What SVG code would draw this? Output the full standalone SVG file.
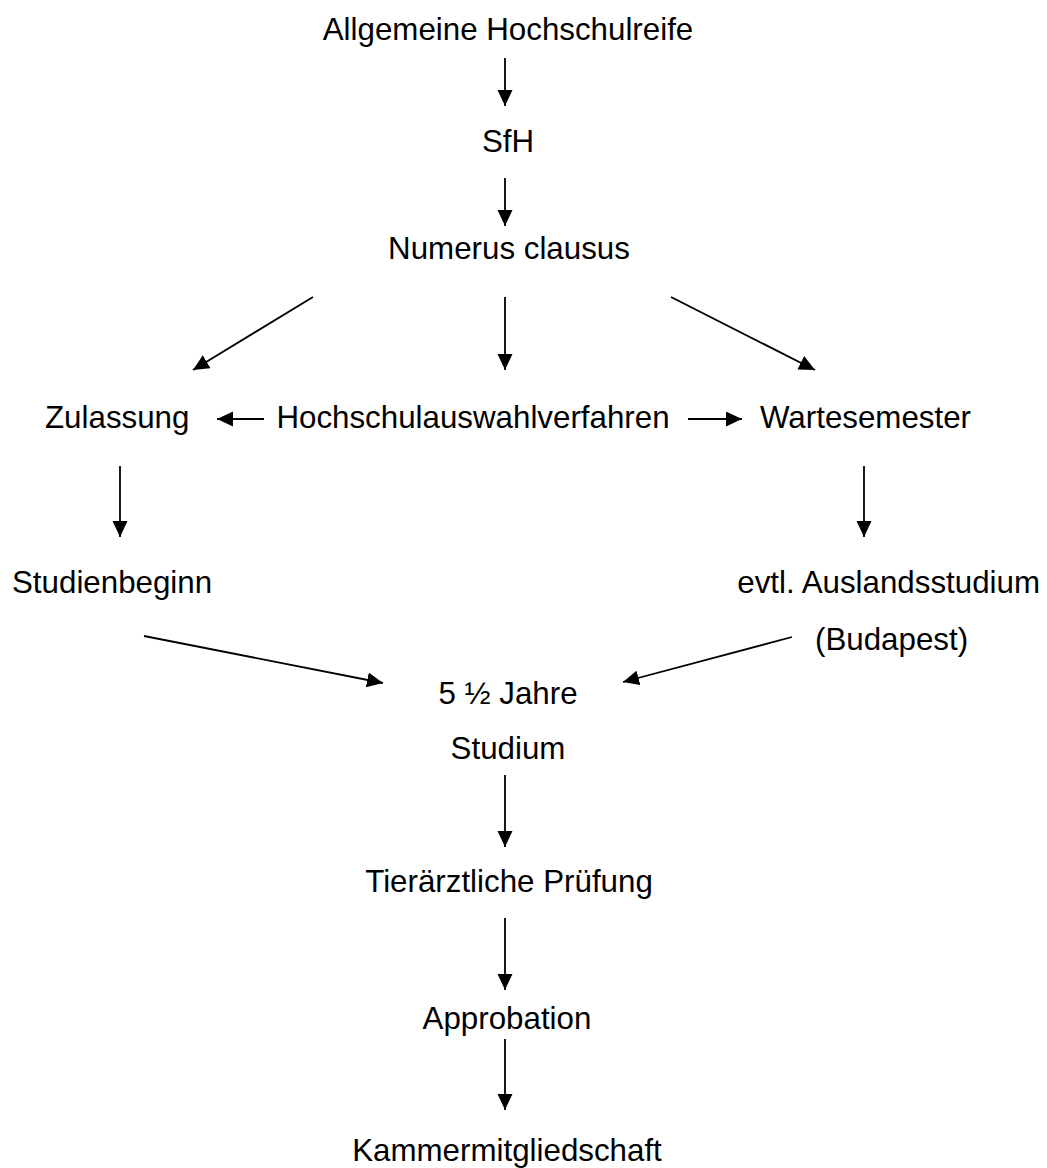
<svg xmlns="http://www.w3.org/2000/svg" width="1047" height="1168" viewBox="0 0 1047 1168">
<defs>
<style>
text{font-family:"Liberation Sans",Arial,sans-serif;font-size:31.3px;fill:#000}
.c{text-anchor:middle}
.e{text-anchor:end}
line{stroke:#000;stroke-width:1.8;fill:none}
</style>
<marker id="ah" markerUnits="userSpaceOnUse" markerWidth="17" markerHeight="16" refX="16" refY="7.5" orient="auto">
<path d="M0,0 L16,7.5 L0,15 Z" fill="#000"/>
</marker>
</defs>
<rect width="1047" height="1168" fill="#fff"/>
<g id="connectors">
<line x1="505" y1="58" x2="505" y2="106" marker-end="url(#ah)"/>
<line x1="505" y1="178" x2="505" y2="226" marker-end="url(#ah)"/>
<line x1="313" y1="297" x2="193" y2="370" marker-end="url(#ah)"/>
<line x1="505" y1="297" x2="505" y2="370" marker-end="url(#ah)"/>
<line x1="671" y1="297" x2="815" y2="370" marker-end="url(#ah)"/>
<line x1="264" y1="419" x2="217" y2="419" marker-end="url(#ah)"/>
<line x1="688" y1="419" x2="742" y2="419" marker-end="url(#ah)"/>
<line x1="120" y1="466" x2="120" y2="537" marker-end="url(#ah)"/>
<line x1="864" y1="466" x2="864" y2="537" marker-end="url(#ah)"/>
<line x1="144" y1="636" x2="383" y2="683" marker-end="url(#ah)"/>
<line x1="792" y1="637" x2="623" y2="682" marker-end="url(#ah)"/>
<line x1="505" y1="775" x2="505" y2="847" marker-end="url(#ah)"/>
<line x1="505" y1="918" x2="505" y2="990" marker-end="url(#ah)"/>
<line x1="505" y1="1039" x2="505" y2="1110" marker-end="url(#ah)"/>
</g>
<g id="n1"><text class="c" x="508" y="40">Allgemeine Hochschulreife</text></g>
<g id="n2"><text class="c" x="508" y="152">SfH</text></g>
<g id="n3"><text class="c" x="509" y="259">Numerus clausus</text></g>
<g id="n4"><text x="45" y="428">Zulassung</text></g>
<g id="n5"><text class="c" x="473" y="428">Hochschulauswahlverfahren</text></g>
<g id="n6"><text class="e" x="971" y="428">Wartesemester</text></g>
<g id="n7"><text x="12" y="593">Studienbeginn</text></g>
<g id="n8"><text class="e" x="1040" y="593">evtl. Auslandsstudium</text><text x="815" y="650">(Budapest)</text></g>
<g id="n9"><text class="c" x="508" y="704">5 ½ Jahre</text><text class="c" x="508" y="759">Studium</text></g>
<g id="n10"><text class="c" x="509" y="892">Tierärztliche Prüfung</text></g>
<g id="n11"><text class="c" x="507" y="1029">Approbation</text></g>
<g id="n12"><text class="c" x="507" y="1161">Kammermitgliedschaft</text></g>
</svg>
